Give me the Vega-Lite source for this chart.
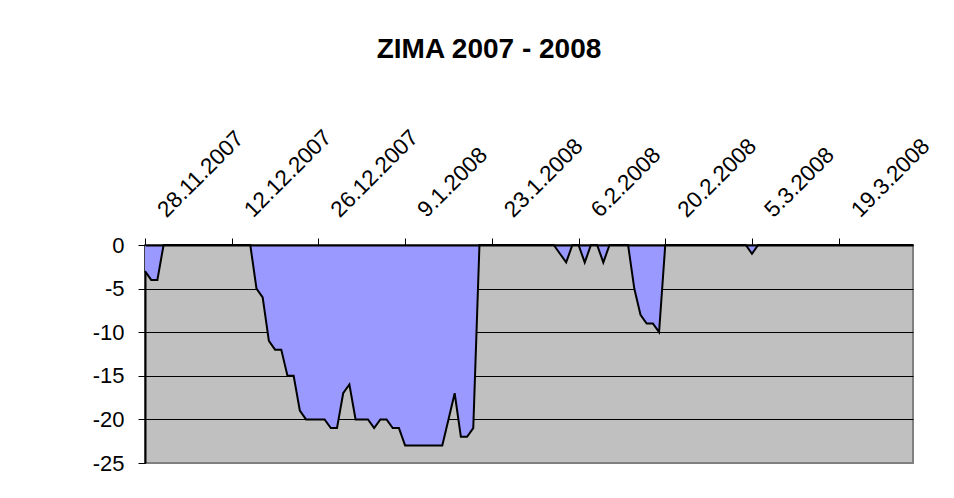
{
  "$schema": "https://vega.github.io/schema/vega-lite/v6.json",
  "width": 768,
  "height": 218,
  "autosize": {"type": "none"},
  "padding": {"left": 145, "top": 245, "right": 41, "bottom": 35},
  "background": "white",
  "config": {
    "font": "Liberation Sans",
    "view": {"fill": "#C0C0C0", "stroke": "#808080", "strokeWidth": 2}
  },
  "title": {
    "text": "ZIMA 2007 - 2008",
    "font": "Liberation Sans",
    "fontSize": 28,
    "fontWeight": "bold",
    "color": "black",
    "anchor": "middle",
    "dx": -40,
    "offset": 40,
    "baseline": "alphabetic"
  },
  "data": {
    "values": [
      {"d": "2007-11-28", "t": -3}, {"d": "2007-11-29", "t": -4}, {"d": "2007-11-30", "t": -4},
      {"d": "2007-12-01", "t": 0}, {"d": "2007-12-02", "t": 0}, {"d": "2007-12-03", "t": 0}, {"d": "2007-12-04", "t": 0},
      {"d": "2007-12-05", "t": 0}, {"d": "2007-12-06", "t": 0}, {"d": "2007-12-07", "t": 0}, {"d": "2007-12-08", "t": 0},
      {"d": "2007-12-09", "t": 0}, {"d": "2007-12-10", "t": 0}, {"d": "2007-12-11", "t": 0}, {"d": "2007-12-12", "t": 0},
      {"d": "2007-12-13", "t": 0}, {"d": "2007-12-14", "t": 0}, {"d": "2007-12-15", "t": 0}, {"d": "2007-12-16", "t": -5},
      {"d": "2007-12-17", "t": -6}, {"d": "2007-12-18", "t": -11}, {"d": "2007-12-19", "t": -12}, {"d": "2007-12-20", "t": -12},
      {"d": "2007-12-21", "t": -15}, {"d": "2007-12-22", "t": -15}, {"d": "2007-12-23", "t": -19}, {"d": "2007-12-24", "t": -20},
      {"d": "2007-12-25", "t": -20}, {"d": "2007-12-26", "t": -20}, {"d": "2007-12-27", "t": -20}, {"d": "2007-12-28", "t": -21},
      {"d": "2007-12-29", "t": -21}, {"d": "2007-12-30", "t": -17}, {"d": "2007-12-31", "t": -16},
      {"d": "2008-01-01", "t": -20}, {"d": "2008-01-02", "t": -20}, {"d": "2008-01-03", "t": -20}, {"d": "2008-01-04", "t": -21},
      {"d": "2008-01-05", "t": -20}, {"d": "2008-01-06", "t": -20}, {"d": "2008-01-07", "t": -21}, {"d": "2008-01-08", "t": -21},
      {"d": "2008-01-09", "t": -23}, {"d": "2008-01-10", "t": -23}, {"d": "2008-01-11", "t": -23}, {"d": "2008-01-12", "t": -23},
      {"d": "2008-01-13", "t": -23}, {"d": "2008-01-14", "t": -23}, {"d": "2008-01-15", "t": -23}, {"d": "2008-01-16", "t": -20},
      {"d": "2008-01-17", "t": -17}, {"d": "2008-01-18", "t": -22}, {"d": "2008-01-19", "t": -22}, {"d": "2008-01-20", "t": -21},
      {"d": "2008-01-21", "t": 0}, {"d": "2008-01-22", "t": 0}, {"d": "2008-01-23", "t": 0}, {"d": "2008-01-24", "t": 0},
      {"d": "2008-01-25", "t": 0}, {"d": "2008-01-26", "t": 0}, {"d": "2008-01-27", "t": 0}, {"d": "2008-01-28", "t": 0},
      {"d": "2008-01-29", "t": 0}, {"d": "2008-01-30", "t": 0}, {"d": "2008-01-31", "t": 0},
      {"d": "2008-02-01", "t": 0}, {"d": "2008-02-02", "t": 0}, {"d": "2008-02-03", "t": -1}, {"d": "2008-02-04", "t": -2},
      {"d": "2008-02-05", "t": 0}, {"d": "2008-02-06", "t": 0}, {"d": "2008-02-07", "t": -2}, {"d": "2008-02-08", "t": 0},
      {"d": "2008-02-09", "t": 0}, {"d": "2008-02-10", "t": -2}, {"d": "2008-02-11", "t": 0}, {"d": "2008-02-12", "t": 0},
      {"d": "2008-02-13", "t": 0}, {"d": "2008-02-14", "t": 0}, {"d": "2008-02-15", "t": -5}, {"d": "2008-02-16", "t": -8},
      {"d": "2008-02-17", "t": -9}, {"d": "2008-02-18", "t": -9}, {"d": "2008-02-19", "t": -10}, {"d": "2008-02-20", "t": 0},
      {"d": "2008-02-21", "t": 0}, {"d": "2008-02-22", "t": 0}, {"d": "2008-02-23", "t": 0}, {"d": "2008-02-24", "t": 0},
      {"d": "2008-02-25", "t": 0}, {"d": "2008-02-26", "t": 0}, {"d": "2008-02-27", "t": 0}, {"d": "2008-02-28", "t": 0},
      {"d": "2008-02-29", "t": 0},
      {"d": "2008-03-01", "t": 0}, {"d": "2008-03-02", "t": 0}, {"d": "2008-03-03", "t": 0}, {"d": "2008-03-04", "t": 0},
      {"d": "2008-03-05", "t": -1}, {"d": "2008-03-06", "t": 0}, {"d": "2008-03-07", "t": 0}, {"d": "2008-03-08", "t": 0},
      {"d": "2008-03-09", "t": 0}, {"d": "2008-03-10", "t": 0}, {"d": "2008-03-11", "t": 0}, {"d": "2008-03-12", "t": 0},
      {"d": "2008-03-13", "t": 0}, {"d": "2008-03-14", "t": 0}, {"d": "2008-03-15", "t": 0}, {"d": "2008-03-16", "t": 0},
      {"d": "2008-03-17", "t": 0}, {"d": "2008-03-18", "t": 0}, {"d": "2008-03-19", "t": 0}, {"d": "2008-03-20", "t": 0},
      {"d": "2008-03-21", "t": 0}, {"d": "2008-03-22", "t": 0}, {"d": "2008-03-23", "t": 0}, {"d": "2008-03-24", "t": 0},
      {"d": "2008-03-25", "t": 0}, {"d": "2008-03-26", "t": 0}, {"d": "2008-03-27", "t": 0}, {"d": "2008-03-28", "t": 0},
      {"d": "2008-03-29", "t": 0}, {"d": "2008-03-30", "t": 0}, {"d": "2008-03-31", "t": 0}
    ]
  },
  "mark": {
    "type": "area",
    "color": "#9999FF",
    "opacity": 1,
    "interpolate": "linear",
    "line": {"color": "black", "strokeWidth": 2}
  },
  "encoding": {
    "x": {
      "field": "d",
      "type": "temporal",
      "scale": {
        "type": "utc",
        "nice": false,
        "domain": [
          {"year": 2007, "month": 11, "date": 28, "utc": true},
          {"year": 2008, "month": 3, "date": 31, "utc": true}
        ]
      },
      "axis": {
        "orient": "top",
        "title": null,
        "grid": false,
        "format": "%-d.%-m.%Y",
        "values": [
          {"year": 2007, "month": 11, "date": 28, "utc": true},
          {"year": 2007, "month": 12, "date": 12, "utc": true},
          {"year": 2007, "month": 12, "date": 26, "utc": true},
          {"year": 2008, "month": 1, "date": 9, "utc": true},
          {"year": 2008, "month": 1, "date": 23, "utc": true},
          {"year": 2008, "month": 2, "date": 6, "utc": true},
          {"year": 2008, "month": 2, "date": 20, "utc": true},
          {"year": 2008, "month": 3, "date": 5, "utc": true},
          {"year": 2008, "month": 3, "date": 19, "utc": true}
        ],
        "labelAngle": -45,
        "labelAlign": "left",
        "labelBaseline": "middle",
        "labelOffset": 16,
        "labelPadding": 25,
        "labelFontSize": 22.5,
        "labelColor": "black",
        "labelOverlap": false,
        "labelFlush": false,
        "labelBound": false,
        "tickSize": 7,
        "tickColor": "black",
        "tickWidth": 1,
        "domainColor": "black",
        "domainWidth": 2,
        "zindex": 1
      }
    },
    "y": {
      "field": "t",
      "type": "quantitative",
      "scale": {"domain": [-25, 0], "nice": false, "zero": false},
      "axis": {
        "title": null,
        "values": [0, -5, -10, -15, -20, -25],
        "labelExpr": "datum.value + ''",
        "labelFontSize": 22,
        "labelColor": "black",
        "labelPadding": 14,
        "tickSize": 7,
        "tickColor": "black",
        "tickWidth": 1,
        "domainColor": "black",
        "domainWidth": 2,
        "grid": true,
        "gridColor": {"condition": {"test": "datum.value === -25", "value": "#808080"}, "value": "black"},
        "gridWidth": 1,
        "gridOpacity": 1,
        "labelFlush": false,
        "labelOverlap": false
      }
    }
  }
}
